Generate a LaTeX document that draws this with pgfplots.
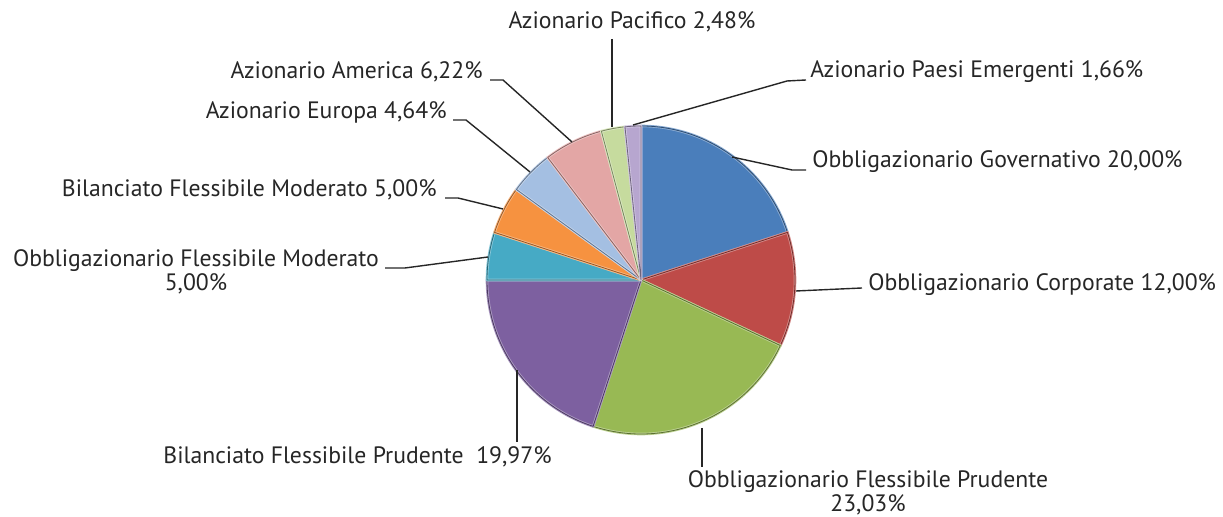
\documentclass[border=0pt]{standalone}
\usepackage{fontspec}
\setmainfont{PT Sans}
\usepackage{pgfplots}
\usepackage{pgfplotstable}
\pgfplotsset{compat=1.18}

\definecolor{cBlue}{HTML}{4A7EBB}
\definecolor{cRed}{HTML}{BE4B48}
\definecolor{cGreen}{HTML}{98B954}
\definecolor{cPurple}{HTML}{7D60A0}
\definecolor{cCyan}{HTML}{46AAC5}
\definecolor{cOrange}{HTML}{F69240}
\definecolor{cLBlue}{HTML}{A4BFE2}
\definecolor{cPink}{HTML}{E3A6A5}
\definecolor{cLGreen}{HTML}{C6DB9E}
\definecolor{cLPurple}{HTML}{B7A6CF}

% shares in percent, clockwise from 12 o'clock
\pgfplotstableread{
share color
20.00 cBlue
12.00 cRed
23.03 cGreen
19.97 cPurple
5.00  cCyan
5.00  cOrange
4.64  cLBlue
6.22  cPink
2.48  cLGreen
1.66  cLPurple
}\piedata

\tikzset{lab/.style={font=\fontsize{11.85}{12}\selectfont,text=black!85,inner sep=0pt},
  lead/.style={black!85,line width=0.7pt}}

\begin{document}
\begin{tikzpicture}
\begin{axis}[width=611.5pt,height=258.5pt,scale only axis,xmin=0,xmax=1223,ymin=0,ymax=517,hide axis,clip=false]
\def\cx{641}\def\cy{237}\def\r{154}
\pgfplotstablegetrowsof{\piedata}
\pgfmathtruncatemacro\nlast{\pgfplotsretval-1}
\def\ang{90}
\pgfplotsforeachungrouped \i in {0,...,\nlast}{%
  \pgfplotstablegetelem{\i}{share}\of\piedata\let\val\pgfplotsretval
  \pgfplotstablegetelem{\i}{color}\of\piedata\let\col\pgfplotsretval
  \pgfmathsetmacro\angb{\ang-3.6*\val}
  \pgfmathsetmacro\px{\cx+\r*cos(\ang)}
  \pgfmathsetmacro\py{\cy+\r*sin(\ang)}
  \edef\temp{\noexpand\filldraw[fill=\col,draw=\col!65!white,line width=1.3pt,line join=round]
    (axis cs:\cx,\cy) -- (axis cs:\px,\py) arc[start angle=\ang,end angle=\angb,radius=77pt] -- cycle;
    \noexpand\draw[\col!60!black,line width=0.4pt,line join=round]
    (axis cs:\cx,\cy) -- (axis cs:\px,\py) arc[start angle=\ang,end angle=\angb,radius=77pt] -- cycle;}
  \temp
  \let\ang\angb
}
% leader lines
\draw[lead] (axis cs:612,478) -- (axis cs:612,390);
\draw[lead] (axis cs:633,392) -- (axis cs:787,436) -- (axis cs:806,437);
\draw[lead] (axis cs:732,360) -- (axis cs:792,347) -- (axis cs:806,347);
\draw[lead] (axis cs:796,226) -- (axis cs:862,229);
\draw[lead] (axis cs:702,89) -- (axis cs:702,50);
\draw[lead] (axis cs:517,147) -- (axis cs:517,75);
\draw[lead] (axis cs:385,249) -- (axis cs:405,249) -- (axis cs:488,260);
\draw[lead] (axis cs:445,319) -- (axis cs:458,319) -- (axis cs:503,308);
\draw[lead] (axis cs:453,397) -- (axis cs:466,397) -- (axis cs:530,345);
\draw[lead] (axis cs:490,437) -- (axis cs:503,437) -- (axis cs:572,375);
% labels
\node[lab,anchor=center] at (axis cs:632,495) {Azionario Pacifico 2,48\%};
\node[lab,anchor=west] at (axis cs:810,445) {Azionario Paesi Emergenti 1,66\%};
\node[lab,anchor=west] at (axis cs:812,355) {Obbligazionario Governativo 20,00\%};
\node[lab,anchor=west] at (axis cs:868,232) {Obbligazionario Corporate 12,00\%};
\node[lab,anchor=center,align=center] at (axis cs:868,24) {Obbligazionario Flessibile Prudente\\23,03\%};
\node[lab,anchor=east] at (axis cs:552,60) {Bilanciato Flessibile Prudente\ \ 19,97\%};
\node[lab,anchor=center,align=center] at (axis cs:196,245) {Obbligazionario Flessibile Moderato\\5,00\%};
\node[lab,anchor=east] at (axis cs:437,327) {Bilanciato Flessibile Moderato 5,00\%};
\node[lab,anchor=east] at (axis cs:447,405) {Azionario Europa 4,64\%};
\node[lab,anchor=east] at (axis cs:483,445) {Azionario America 6,22\%};
\end{axis}
\pgfresetboundingbox
\useasboundingbox (current axis.south west) rectangle (current axis.north east);
\end{tikzpicture}
\end{document}
